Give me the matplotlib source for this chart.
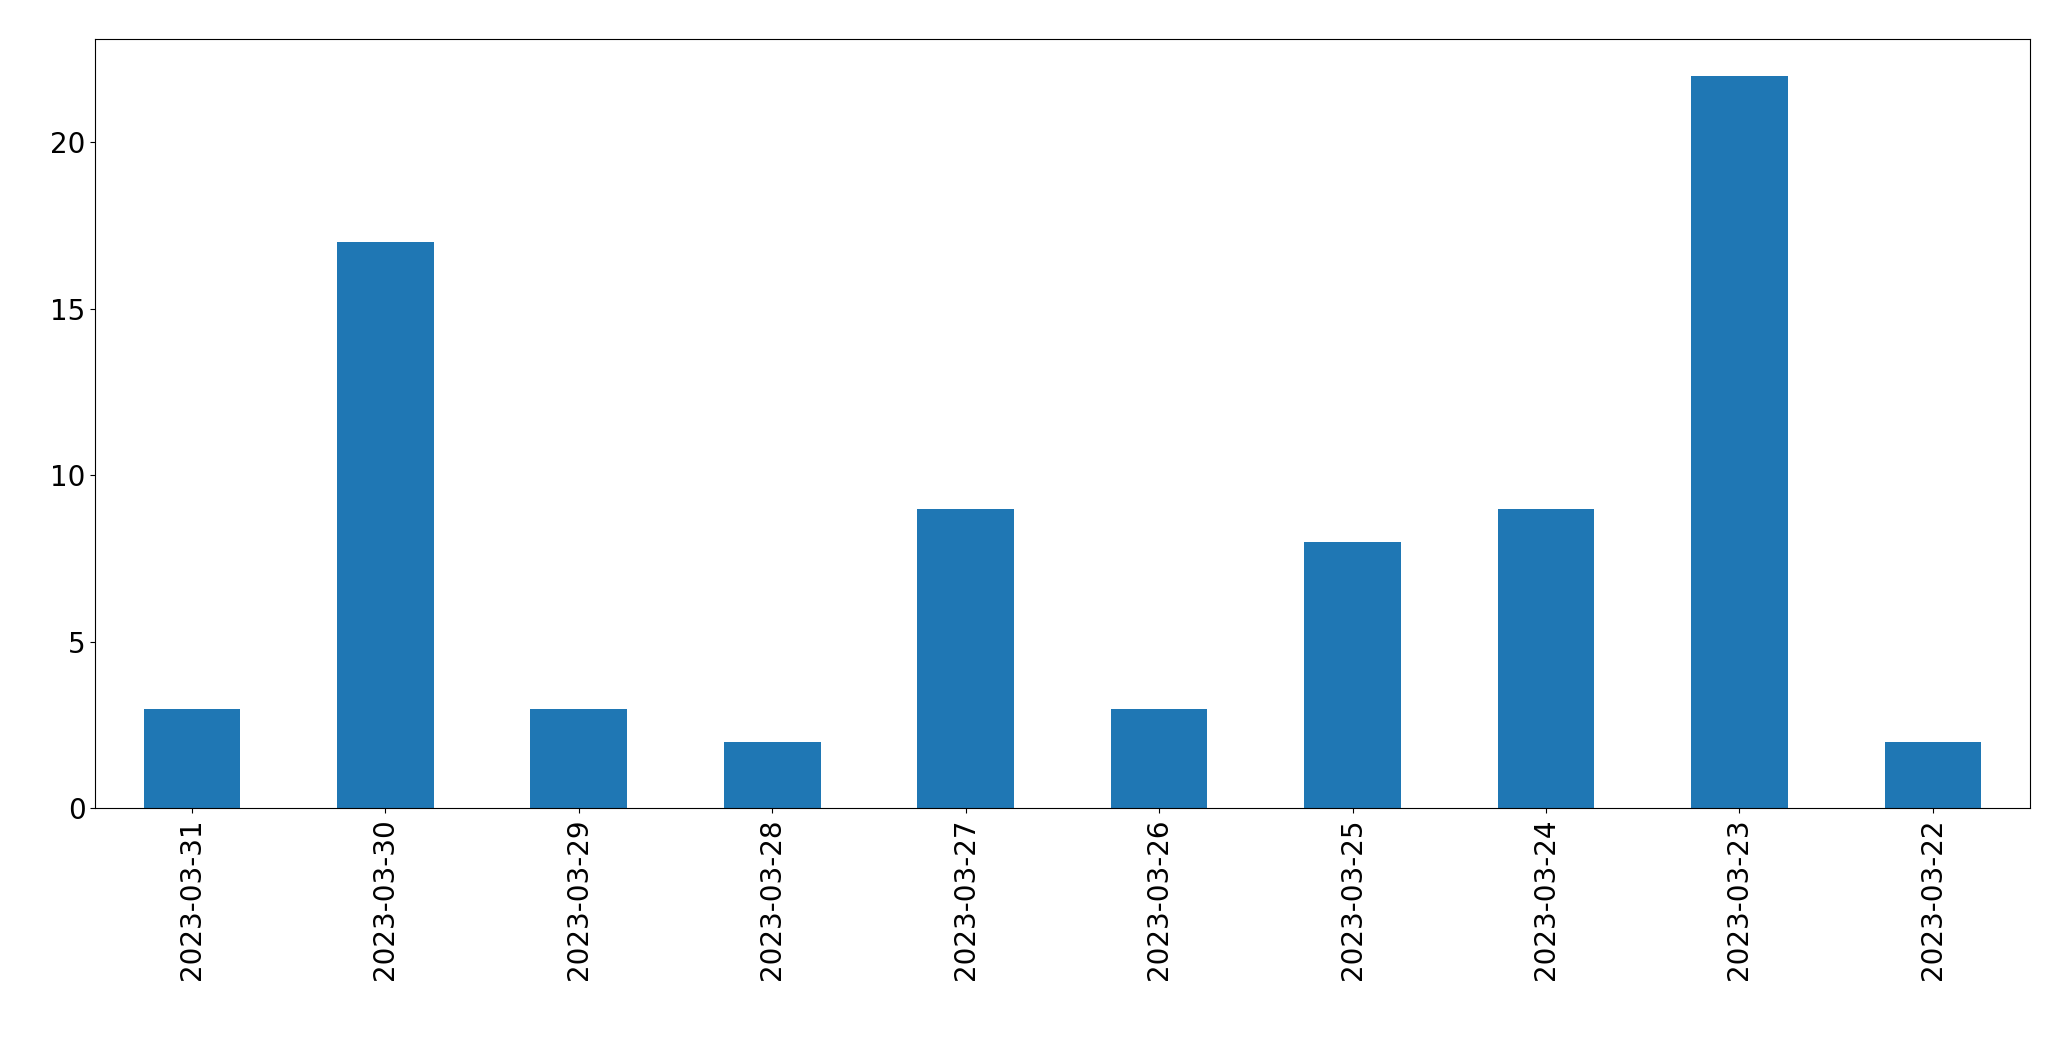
import matplotlib
matplotlib.use("Agg")
import matplotlib.pyplot as plt

dates = ["2023-03-31","2023-03-30","2023-03-29","2023-03-28","2023-03-27",
         "2023-03-26","2023-03-25","2023-03-24","2023-03-23","2023-03-22"]
counts = [3, 17, 3, 2, 9, 3, 8, 9, 22, 2]

fig = plt.figure(figsize=(20.71, 10.61), dpi=100)
ax = fig.add_axes([0.046, 0.238, 0.934, 0.725])
x = range(len(dates))
ax.bar(x, counts, width=0.5, color="#1f77b4")
ax.set_xticks(list(x))
ax.set_xticklabels(dates, rotation=90)
ax.set_xlim(-0.5, len(dates) - 0.5)
ax.set_ylim(0, 23.1)
ax.set_yticks([0, 5, 10, 15, 20])
ax.tick_params(labelsize=20)
fig.savefig("out.png", dpi=100)
